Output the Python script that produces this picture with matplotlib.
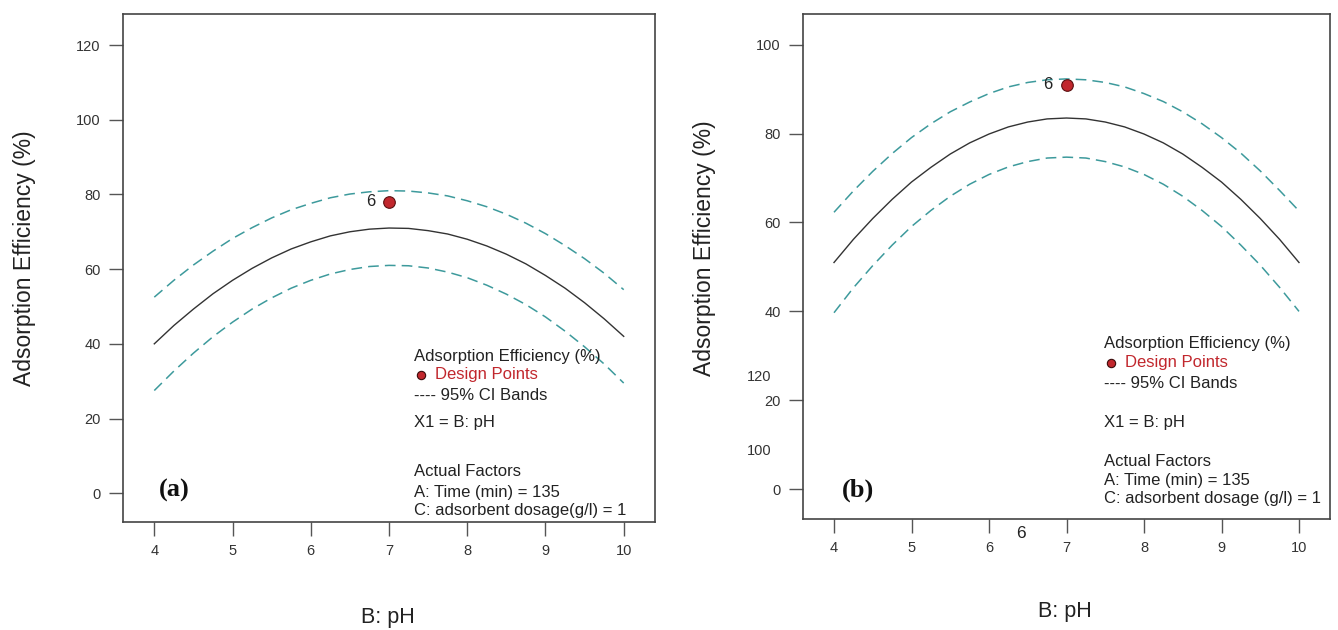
import matplotlib
matplotlib.use("Agg")
import matplotlib.pyplot as plt
from matplotlib.lines import Line2D

# ---------------- data ----------------
ph = [4.0, 4.25, 4.5, 4.75, 5.0, 5.25, 5.5, 5.75, 6.0, 6.25, 6.5, 6.75, 7.0,
      7.25, 7.5, 7.75, 8.0, 8.25, 8.5, 8.75, 9.0, 9.25, 9.5, 9.75, 10.0]

a_pred = [40.0, 44.9, 49.3, 53.4, 57.0, 60.2, 63.0, 65.4, 67.3, 68.9, 70.0, 70.7, 71.0,
          70.9, 70.3, 69.4, 68.0, 66.2, 64.0, 61.4, 58.3, 54.9, 51.0, 46.7, 42.0]
a_upper = [52.5, 57.0, 61.1, 64.8, 68.2, 71.1, 73.7, 75.9, 77.6, 79.1, 80.1, 80.7, 81.0,
           80.9, 80.4, 79.6, 78.3, 76.7, 74.7, 72.3, 69.5, 66.3, 62.8, 58.9, 54.5]
a_lower = [27.5, 32.7, 37.5, 41.9, 45.8, 49.3, 52.3, 54.9, 57.0, 58.7, 59.9, 60.7, 61.0,
           60.9, 60.3, 59.2, 57.7, 55.7, 53.3, 50.5, 47.2, 43.4, 39.2, 34.6, 29.5]

b_pred = [51.0, 56.2, 60.9, 65.2, 69.1, 72.4, 75.4, 77.9, 79.9, 81.5, 82.6, 83.3, 83.5,
          83.3, 82.6, 81.5, 79.9, 77.9, 75.4, 72.4, 69.1, 65.2, 60.9, 56.2, 51.0]
b_upper = [62.3, 67.1, 71.5, 75.5, 79.1, 82.2, 84.9, 87.1, 89.0, 90.5, 91.5, 92.1, 92.3,
           92.1, 91.5, 90.5, 89.0, 87.2, 84.9, 82.2, 79.1, 75.6, 71.6, 67.2, 62.6]
b_lower = [39.7, 45.3, 50.3, 54.9, 59.1, 62.7, 65.9, 68.6, 70.8, 72.5, 73.7, 74.5, 74.7,
           74.5, 73.7, 72.5, 70.8, 68.6, 65.9, 62.7, 59.1, 54.9, 50.4, 45.4, 40.0]

a_point_x, a_point_y = [7.0], [78.0]
b_point_x, b_point_y = [7.0], [91.0]
point_label = "6"

x_ticks = [4, 5, 6, 7, 8, 9, 10]
a_y_ticks = [0, 20, 40, 60, 80, 100, 120]
b_y_ticks = [0, 20, 40, 60, 80, 100]

ylabel = "Adsorption Efficiency (%)"
xlabel = "B: pH"

# ---------------- figure ----------------
W, H = 1338, 630
fig = plt.figure(figsize=(W / 100, H / 100), dpi=100)
plt.rcParams['font.family'] = ['Liberation Sans', 'DejaVu Sans']

def fx(px):
    return px / W

def fy(py):
    return 1 - py / H

def make_axes(l, t, r, b):
    return fig.add_axes([fx(l), fy(b), fx(r) - fx(l), fy(t) - fy(b)])

teal = "#3d9a9c"
red = "#c1272d"
dark = "#222222"
grey = "#444444"

axA = make_axes(123, 14, 655, 522)
axB = make_axes(803, 14, 1330, 519)

for ax, xs, pred, up, lo, px_, py_, yticks, ylim in [
    (axA, ph, a_pred, a_upper, a_lower, a_point_x, a_point_y, a_y_ticks, (-7.7, 128.3)),
    (axB, ph, b_pred, b_upper, b_lower, b_point_x, b_point_y, b_y_ticks, (-6.7, 106.9)),
]:
    ax.plot(xs, pred, color="#333333", lw=1.0)
    ax.plot(xs, up, color=teal, lw=1.1, dashes=(7, 4))
    ax.plot(xs, lo, color=teal, lw=1.1, dashes=(7, 4))
    ax.scatter(px_, py_, s=70, color=red, edgecolor="#5a1010", linewidth=0.8, zorder=5)
    ax.annotate(point_label, (px_[0], py_[0]), xytext=(-10, 0), textcoords="offset points",
                ha="right", va="center", fontsize=12, color=dark)
    ax.set_xlim(3.6, 10.4)
    ax.set_ylim(*ylim)
    ax.set_xticks(x_ticks)
    ax.set_yticks(yticks)
    ax.tick_params(direction="out", length=10, width=1.0, color="#555555",
                   labelsize=10.5, labelcolor="#333333", pad=6)
    for s in ax.spines.values():
        s.set_color(grey)
        s.set_linewidth(1.2)

# axis labels
fig.text(fx(25), fy(258), ylabel, rotation=90, ha="center", va="center", fontsize=16.5, color=dark)
fig.text(fx(705), fy(248), ylabel, rotation=90, ha="center", va="center", fontsize=16.5, color=dark)
fig.text(fx(388), fy(617), xlabel, ha="center", va="center", fontsize=15.5, color=dark)
fig.text(fx(1065), fy(612), xlabel, ha="center", va="center", fontsize=15.5, color=dark)

# panel letters
fig.text(fx(174), fy(490), "(a)", ha="center", va="center", fontsize=19, fontweight="bold",
         family="Liberation Serif", color="#111111")
fig.text(fx(858), fy(490), "(b)", ha="center", va="center", fontsize=19, fontweight="bold",
         family="Liberation Serif", color="#111111")

# legend-like text blocks
def info_block(x0, lines_y, dosage_text):
    fs = 12
    fig.text(fx(x0), fy(lines_y[0]), ylabel, ha="left", va="center", fontsize=fs, color=dark)
    fig.add_artist(Line2D([fx(x0 + 7)], [fy(lines_y[1])], marker="o", markersize=6,
                          markerfacecolor=red, markeredgecolor="#3a0a0a", markeredgewidth=0.8,
                          linestyle="none", transform=fig.transFigure))
    fig.text(fx(x0 + 21), fy(lines_y[1]), "Design Points", ha="left", va="center", fontsize=fs, color=red)
    fig.text(fx(x0), fy(lines_y[2]), "---- 95% CI Bands", ha="left", va="center", fontsize=fs, color=dark)
    fig.text(fx(x0), fy(lines_y[3]), "X1 = B: pH", ha="left", va="center", fontsize=fs, color=dark)
    fig.text(fx(x0), fy(lines_y[4]), "Actual Factors", ha="left", va="center", fontsize=fs, color=dark)
    fig.text(fx(x0), fy(lines_y[5]), "A: Time (min) = 135", ha="left", va="center", fontsize=fs, color=dark)
    fig.text(fx(x0), fy(lines_y[6]), dosage_text, ha="left", va="center", fontsize=fs, color=dark)

info_block(414, [356, 375, 395, 422, 471, 492, 511], "C: adsorbent dosage(g/l) = 1")
info_block(1104, [344, 363, 383, 422, 461, 480, 498], "C: adsorbent dosage (g/l) = 1")

# stray labels present in panel (b) of the reference
fig.text(fx(771), fy(377), "120", ha="right", va="center", fontsize=10.5, color="#333333")
fig.text(fx(771), fy(451), "100", ha="right", va="center", fontsize=10.5, color="#333333")
fig.text(fx(1021), fy(533), "6", ha="center", va="center", fontsize=12.5, color=dark)

fig.savefig("out.png", dpi=100)
